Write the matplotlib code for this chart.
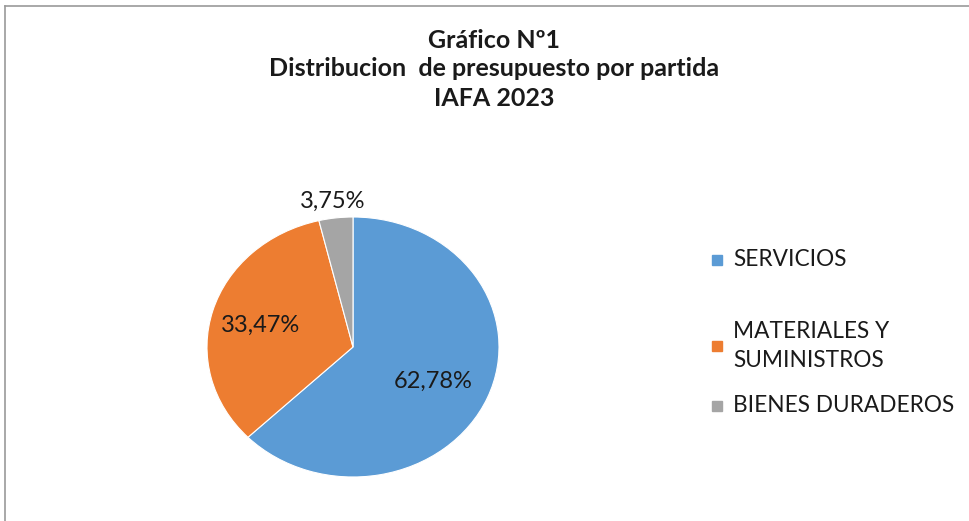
import matplotlib
matplotlib.use("Agg")
import matplotlib.pyplot as plt
from matplotlib.lines import Line2D
from matplotlib.patches import Rectangle
import numpy as np

categories = ["SERVICIOS", "MATERIALES Y\nSUMINISTROS", "BIENES DURADEROS"]
values = [62.78, 33.47, 3.75]
colors = ["#5B9BD5", "#ED7D31", "#A5A5A5"]
title_lines = ["Gráfico Nº1", "Distribucion  de presupuesto por partida", "IAFA 2023"]

W, H = 970, 521
fig = plt.figure(figsize=(W / 100, H / 100), dpi=100)
fig.patch.set_facecolor("white")

def fx(px):
    return px / W

def fy(py):
    return 1 - py / H

# frame lines (top and left)
fig.add_artist(Line2D([fx(5), 1.0], [fy(6), fy(6)], color="#9a9a9a", lw=1.2))
fig.add_artist(Line2D([fx(5), fx(5)], [fy(6), 0.0], color="#9a9a9a", lw=1.2))

# pie axes: center (353,347), rx 146, ry 130
cx, cy, rx, ry = 353, 347, 146, 130
ax = fig.add_axes([fx(cx - rx), fy(cy + ry), 2 * rx / W, 2 * ry / H])
wedges, texts, autotexts = ax.pie(
    values, colors=colors, startangle=90, counterclock=False,
    autopct=lambda p: f"{p:.2f}%".replace(".", ","), pctdistance=0.6,
    wedgeprops=dict(edgecolor="white", linewidth=0.8),
    textprops=dict(fontsize=17, family="Lato", color="#1a1a1a"),
)
ax.set_aspect("auto")
ax.set_xlim(-1, 1)
ax.set_ylim(-1, 1)
ax.axis("off")

# move the small slice label outside
w = wedges[2]
ang = np.deg2rad((w.theta1 + w.theta2) / 2)
autotexts[2].set_position((1.16 * np.cos(ang), 1.13 * np.sin(ang)))
p0 = autotexts[0].get_position()
autotexts[0].set_position((p0[0], p0[1] - 0.03))
p1 = autotexts[1].get_position()
autotexts[1].set_position((p1[0] - 0.06, p1[1]))

# title
for txt, py in zip(title_lines, [41, 69, 98]):
    fig.text(fx(494), fy(py), txt, ha="center", va="center", fontsize=18,
             fontweight="bold", family="Lato", color="#1a1a1a")

# legend
leg_y = [260, 346, 406]
for cat, col, py in zip(categories, colors, leg_y):
    fig.add_artist(Rectangle((fx(712), fy(py + 5)), 10 / W, 10 / H, color=col,
                             transform=fig.transFigure))
    fig.text(fx(733), fy(py), cat, ha="left", va="center", fontsize=16.3,
             family="Lato", color="#1a1a1a", linespacing=1.42)

fig.savefig("out.png", dpi=100, facecolor="white")
